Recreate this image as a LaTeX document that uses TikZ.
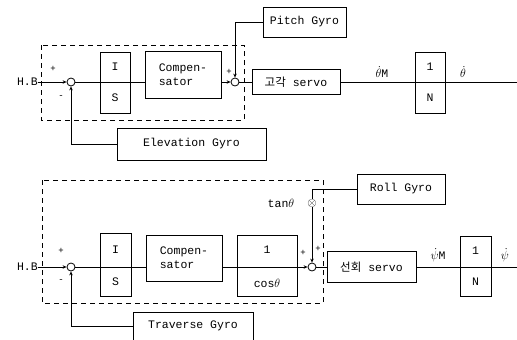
\documentclass[tikz,border=0pt]{standalone}
\usepackage{fontspec}
\setmainfont{Liberation Mono}
\newfontfamily\kr{Noto Sans CJK KR}
\usetikzlibrary{arrows.meta}
\begin{document}
\begin{tikzpicture}[x=1pt,y=-1pt,
  ln/.style={line width=0.8pt},
  blk/.style={draw, line width=0.8pt, inner sep=0pt},
  arr/.style={ln, -{Stealth[length=4pt,width=3.5pt]}},
  sumc/.style={draw, circle, line width=0.8pt, minimum size=8pt, inner sep=0pt},
  dbox/.style={draw, line width=1pt, dash pattern=on 5pt off 4pt},
  lbl/.style={font=\fontsize{11.5}{14}\selectfont, inner sep=0pt},
  sg/.style={font=\fontsize{9}{10}\selectfont, inner sep=0pt}]
\useasboundingbox (0,0) rectangle (517,340);

% ---------- top loop (elevation) ----------
\draw[dbox] (41,45) rectangle (244,120);
\node[lbl, anchor=east] (hb1) at (38,82) {H.B};
\node[sumc] (s1) at (71,82) {};
\node[sg] (p1) at (53,69) {+};
\node[sg] (m1) at (61,97) {-};
\node[blk, minimum width=30pt, minimum height=61pt] (is1) at (115,82.5) {};
\node[lbl] (is1n) at (115,67) {I};
\node[lbl] (is1d) at (115,98) {S};
\node[blk, lbl, align=left, minimum width=76pt, minimum height=47pt] (comp1) at (183,74.5) {Compen-\\sator};
\node[sumc] (s2) at (235,82) {};
\node[sg] (p2) at (229,72) {+};
\node[blk, lbl, minimum width=83pt, minimum height=30pt] (pg) at (304.5,22) {Pitch Gyro};
\node[blk, lbl, minimum width=88pt, minimum height=25pt] (sv1) at (296,82) {{\kr 고각} servo};
\node[blk, minimum width=30pt, minimum height=61pt] (n1) at (430,82.5) {};
\node[lbl] (n1n) at (430,67) {1};
\node[lbl] (n1d) at (430,98) {N};
\node[lbl, anchor=south] (thm) at (382,78) {$\dot{\theta}$M};
\node[lbl, anchor=south] (th) at (463,78) {$\dot{\theta}$};
\node[blk, lbl, minimum width=149pt, minimum height=32pt] (eg) at (191.5,144) {Elevation Gyro};
\coordinate (out1) at (517,82);

\draw[arr] (hb1.east) -- (s1.west);
\draw[ln] (s1.east) -- (comp1.west |- s1);
\draw[arr] (comp1.east |- s2) -- (s2.west);
\draw[ln] (s2.east) -- (sv1.west);
\draw[ln] (sv1.east) -- (out1);
\draw[arr] (pg.west) -| (s2.north);
\draw[arr] (eg.west) -| (s1.south);

% ---------- bottom loop (traverse) ----------
\draw[dbox] (42,180) rectangle (323,303);
\node[lbl, anchor=east] (hb2) at (38,267) {H.B};
\node[sumc] (s3) at (71,267) {};
\node[sg] (p3) at (61,251) {+};
\node[sg] (m3) at (61,281) {-};
\node[blk, minimum width=31pt, minimum height=63pt] (is2) at (115.5,264.5) {};
\node[lbl] (is2n) at (115.5,250) {I};
\node[lbl] (is2d) at (115.5,282) {S};
\node[blk, lbl, align=left, minimum width=76pt, minimum height=46pt] (comp2) at (184,258) {Compen-\\sator};
\node[blk, minimum width=60pt, minimum height=61pt] (cs) at (267,265.5) {};
\node[lbl] (csn) at (267,250) {1};
\node[lbl] (csd) at (267,283) {cos$\theta$};
\node[sumc] (s4) at (312,267) {};
\node[sg] (p4) at (303,253) {+};
\node[sg] (p5) at (318,249) {+};
\node[lbl] (mult) at (312,203) {$\otimes$};
\node[lbl] (tan) at (281,203) {tan$\theta$};
\node[blk, lbl, minimum width=88pt, minimum height=30pt] (roll) at (401,189) {Roll Gyro};
\node[blk, lbl, minimum width=89pt, minimum height=31pt] (sv2) at (371.5,267) {{\kr 선회} servo};
\node[blk, minimum width=31pt, minimum height=60pt] (n2) at (475.5,266) {};
\node[lbl] (n2n) at (475.5,251) {1};
\node[lbl] (n2d) at (475.5,282) {N};
\node[lbl, anchor=south] (psm) at (438,262) {$\dot{\psi}$M};
\node[lbl, anchor=south] (ps) at (505,262) {$\dot{\psi}$};
\node[blk, lbl, minimum width=120pt, minimum height=28pt] (tg) at (193,326) {Traverse Gyro};
\coordinate (out2) at (517,267);

\draw[arr] (hb2.east) -- (s3.west);
\draw[ln] (s3.east) -- (comp2.west |- s3);
\draw[ln] (comp2.east |- s3) -- (cs.west |- s3);
\draw[ln] (cs.west |- s3) -- (cs.east |- s3);
\draw[arr] (cs.east |- s4) -- (s4.west);
\draw[ln] (s4.east) -- (sv2.west);
\draw[ln] (sv2.east) -- (out2);
\draw[ln] (roll.west) -| (mult.north);
\draw[arr] (mult.south) -- (s4.north);
\draw[arr] (tg.west) -| (s3.south);
\end{tikzpicture}
\end{document}
